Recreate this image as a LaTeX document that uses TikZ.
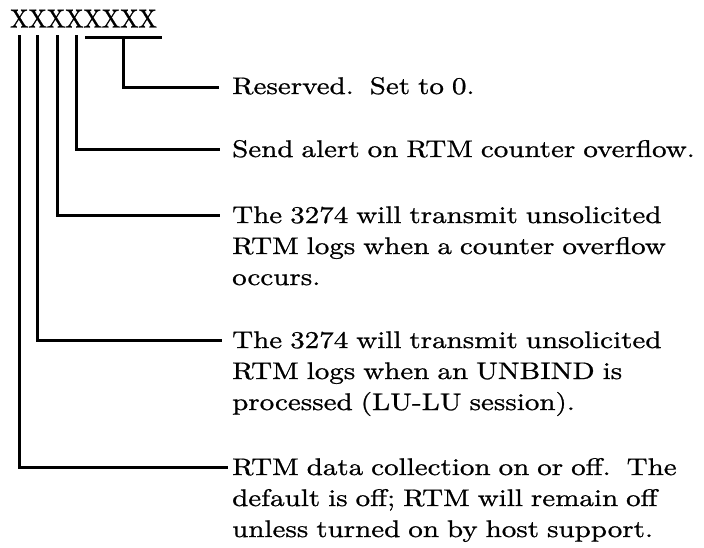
\documentclass[tikz,border=0pt]{standalone}
\usepackage{fontspec}
\setmainfont{lmroman10-regular.otf}[FakeStretch=1.21,FakeBold=0.9]
\newfontfamily\xfont{lmroman10-regular.otf}[FakeStretch=0.94,FakeBold=1.1]
\begin{document}
\begin{tikzpicture}[x=1pt,y=-1pt,
  conn/.style={line width=3pt},
  blk/.style={anchor=base west, inner sep=0pt, text width=472pt, align=left,
    font=\fontsize{24}{31}\selectfont}]
\useasboundingbox (0,0) rectangle (704,547);
\node[anchor=base west, inner sep=0pt, font=\xfont\fontsize{26}{30}\selectfont] (bits) at (10,27.5) {XXXXXXXX};
% line anchors under the bits
\coordinate (b0) at (19,35);
\coordinate (b1) at (37.5,35);
\coordinate (b2) at (57,35);
\coordinate (b3) at (76,35);
\coordinate (r0) at (85,37);
\coordinate (r1) at (162,37);
\coordinate (rt) at (123,37);
% text blocks
\node[blk] (t1) at (232,94) {Reserved.\ \ Set to 0.};
\node[blk] (t2) at (232,157) {Send alert on RTM counter overflow.};
\node[blk] (t3) at (232,223) {The 3274 will transmit unsolicited\\RTM logs when a counter overflow\\occurs.};
\node[blk] (t4) at (232,348) {The 3274 will transmit unsolicited\\RTM logs when an UNBIND is\\processed (LU-LU session).};
\node[blk] (t5) at (232,475) {RTM data collection on or off.\ \ The\\default is off; RTM will remain off\\unless turned on by host support.};
% connector ends
\coordinate (e1) at (219,87);
\coordinate (e2) at (220,149);
\coordinate (e3) at (220,215);
\coordinate (e4) at (222,340);
\coordinate (e5) at (228,467);
\draw[conn] (r0) -- (r1);
\draw[conn] (rt) |- (e1);
\draw[conn] (b3) |- (e2);
\draw[conn] (b2) |- (e3);
\draw[conn] (b1) |- (e4);
\draw[conn] (b0) |- (e5);
\end{tikzpicture}
\end{document}
